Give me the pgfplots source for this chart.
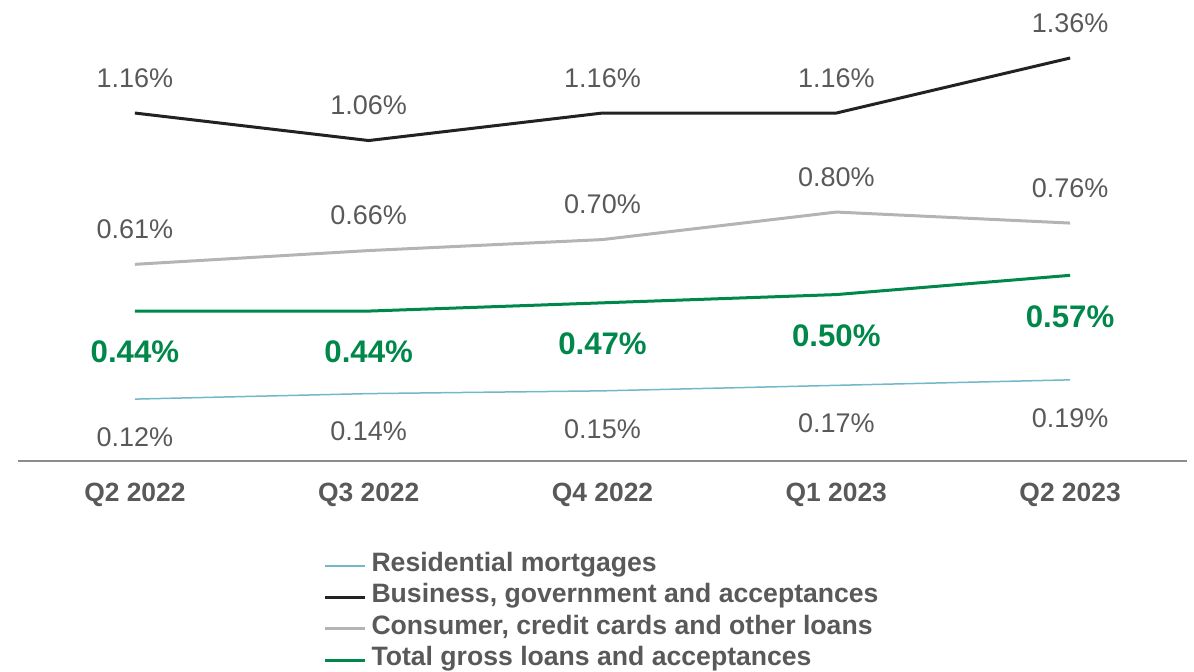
\documentclass[border=0pt]{standalone}
\usepackage{fontspec}
\setmainfont{Liberation Sans}
\usepackage{pgfplots}
\pgfplotsset{compat=1.18}
\definecolor{resid}{HTML}{72B8C8}
\definecolor{busi}{HTML}{222222}
\definecolor{cons}{HTML}{B4B4B4}
\definecolor{total}{HTML}{00874A}
\definecolor{txtgray}{HTML}{595959}
\definecolor{axgray}{HTML}{8C8C8C}

\begin{document}
\begin{tikzpicture}
\begin{axis}[
  scale only axis, width=584.5pt, height=230.5pt,
  xmin=-0.5, xmax=4.5, ymin=-0.105, ymax=1.571,
  axis x line=bottom, axis y line=none,
  x axis line style={-, draw=axgray, line width=1pt},
  xtick={0,1,2,3,4},
  xticklabels={Q2 2022,Q3 2022,Q4 2022,Q1 2023,Q2 2023},
  major tick length=0pt, ytick=\empty,
  xticklabel style={font=\bfseries\fontsize{13.2}{15}\selectfont, text=txtgray, yshift=-7.5pt},
  clip=false,
  nodes near coords={\pgfmathprintnumber[fixed,fixed zerofill,precision=2,assume math mode=true]{\pgfplotspointmeta}\%},
  every node near coord/.append style={anchor=center, font=\fontsize{13.5}{15}\selectfont, text=txtgray},
  legend style={draw=none, fill=none, at={(0.261,-0.193)}, anchor=north west,
    inner sep=0pt, column sep=2.5pt, row sep=0pt,
    font=\bfseries\fontsize{13.3}{15.7}\selectfont, text=txtgray,
    nodes={inner sep=0pt, text height=10.5pt, text depth=5.2pt}},
  legend cell align=left,
  legend image code/.code={\draw[#1] (0pt,0pt) -- (20pt,0pt);},
]
% residential mortgages
\addplot[resid, line width=0.75pt, every node near coord/.append style={yshift=-19pt}]
  coordinates {(0,0.12) (1,0.14) (2,0.15) (3,0.17) (4,0.19)};
\addlegendentry{Residential mortgages}
% business
\addplot[busi, line width=1.5pt, every node near coord/.append style={yshift=17.5pt}]
  coordinates {(0,1.16) (1,1.06) (2,1.16) (3,1.16) (4,1.36)};
\addlegendentry{Business, government and acceptances}
% consumer
\addplot[cons, line width=1.5pt, every node near coord/.append style={yshift=17.5pt}]
  coordinates {(0,0.61) (1,0.66) (2,0.70) (3,0.80) (4,0.76)};
\addlegendentry{Consumer, credit cards and other loans}
% total
\addplot[total, line width=1.5pt, every node near coord/.append style={yshift=-20.5pt, text=total, font=\bfseries\fontsize{15.6}{17}\selectfont}]
  coordinates {(0,0.44) (1,0.44) (2,0.47) (3,0.50) (4,0.57)};
\addlegendentry{Total gross loans and acceptances}
\coordinate (TL) at (rel axis cs:0,1);
\end{axis}
\pgfresetboundingbox
\path[use as bounding box] (TL) ++(-9pt,0pt) rectangle ++(597pt,-336pt);
\end{tikzpicture}
\end{document}
